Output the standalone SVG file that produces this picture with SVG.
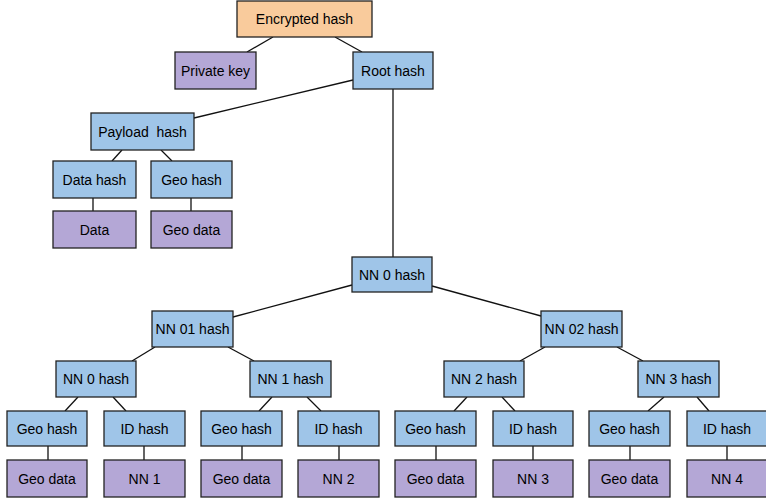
<svg xmlns="http://www.w3.org/2000/svg" width="766" height="500" viewBox="0 0 766 500">
<style>
rect{stroke:#222;stroke-width:1.3}
.b{fill:#9fc5e8}
.p{fill:#b4a7d6}
.o{fill:#f9cb9c}
text{font-family:"Liberation Sans",Arial,sans-serif;font-size:14px;fill:#000;text-anchor:middle;dominant-baseline:central}
#edges line{stroke:#111;stroke-width:1.3}
</style>
<rect width="766" height="500" fill="#fff" style="stroke:none"/>
<g id="edges">
<line x1="273" y1="37" x2="247" y2="52"/>
<line x1="335" y1="37" x2="362" y2="52"/>
<line x1="353" y1="80" x2="194" y2="118"/>
<line x1="393" y1="89" x2="393" y2="257"/>
<line x1="122" y1="150" x2="112" y2="161"/>
<line x1="161" y1="150" x2="172" y2="161"/>
<line x1="93" y1="198" x2="93" y2="211"/>
<line x1="191" y1="198" x2="191" y2="211"/>
<line x1="352" y1="285" x2="233" y2="317"/>
<line x1="432" y1="286" x2="541" y2="316"/>
<line x1="155" y1="347" x2="132" y2="361"/>
<line x1="228" y1="347" x2="254" y2="361"/>
<line x1="545" y1="347" x2="520" y2="361"/>
<line x1="617" y1="347" x2="643" y2="361"/>
<line x1="78" y1="397" x2="65" y2="411"/>
<line x1="113" y1="397" x2="126" y2="411"/>
<line x1="272" y1="397" x2="259" y2="411"/>
<line x1="307" y1="397" x2="321" y2="411"/>
<line x1="467" y1="397" x2="454" y2="411"/>
<line x1="502" y1="397" x2="515" y2="411"/>
<line x1="664" y1="397" x2="648" y2="411"/>
<line x1="697" y1="397" x2="709" y2="411"/>
<line x1="48" y1="446" x2="48" y2="460"/>
<line x1="144" y1="446" x2="144" y2="460"/>
<line x1="242" y1="446" x2="242" y2="460"/>
<line x1="339" y1="446" x2="339" y2="460"/>
<line x1="436" y1="446" x2="436" y2="460"/>
<line x1="533" y1="446" x2="533" y2="460"/>
<line x1="630" y1="446" x2="630" y2="460"/>
<line x1="727" y1="446" x2="727" y2="460"/>
</g>
<g id="encrypted"><rect class="o" x="237" y="1" width="135" height="36"/><text x="304.5" y="19">Encrypted hash</text></g>
<g id="privkey"><rect class="p" x="175" y="52" width="81" height="37"/><text x="215.5" y="70.5">Private key</text></g>
<g id="root"><rect class="b" x="353" y="52" width="80" height="37"/><text x="393" y="70.5">Root hash</text></g>
<g id="payload"><rect class="b" x="91" y="113" width="103" height="37"/><text x="142.5" y="131.5" style="white-space:pre">Payload  hash</text></g>
<g id="datahash"><rect class="b" x="53" y="161" width="83" height="37"/><text x="94.5" y="179.5">Data hash</text></g>
<g id="geohash0"><rect class="b" x="151" y="161" width="81" height="37"/><text x="191.5" y="179.5">Geo hash</text></g>
<g id="data"><rect class="p" x="53" y="211" width="83" height="37"/><text x="94.5" y="229.5">Data</text></g>
<g id="geodata0"><rect class="p" x="151" y="211" width="81" height="37"/><text x="191.5" y="229.5">Geo data</text></g>
<g id="nn0root"><rect class="b" x="352" y="257" width="80" height="35"/><text x="392" y="274.5">NN 0 hash</text></g>
<g id="nn01"><rect class="b" x="152" y="311" width="81" height="36"/><text x="192.5" y="329">NN 01 hash</text></g>
<g id="nn02"><rect class="b" x="541" y="311" width="81" height="36"/><text x="581.5" y="329">NN 02 hash</text></g>
<g id="nn0"><rect class="b" x="56" y="361" width="80" height="36"/><text x="96" y="379">NN 0 hash</text></g>
<g id="nn1"><rect class="b" x="250" y="361" width="81" height="36"/><text x="290.5" y="379">NN 1 hash</text></g>
<g id="nn2"><rect class="b" x="444" y="361" width="80" height="36"/><text x="484" y="379">NN 2 hash</text></g>
<g id="nn3"><rect class="b" x="638" y="361" width="81" height="36"/><text x="678.5" y="379">NN 3 hash</text></g>
<g id="geohash1"><rect class="b" x="7" y="411" width="80" height="35"/><text x="47" y="428.5">Geo hash</text></g>
<g id="idhash1"><rect class="b" x="104" y="411" width="81" height="35"/><text x="144.5" y="428.5">ID hash</text></g>
<g id="geohash2"><rect class="b" x="201" y="411" width="81" height="35"/><text x="241.5" y="428.5">Geo hash</text></g>
<g id="idhash2"><rect class="b" x="298" y="411" width="81" height="35"/><text x="338.5" y="428.5">ID hash</text></g>
<g id="geohash3"><rect class="b" x="395" y="411" width="81" height="35"/><text x="435.5" y="428.5">Geo hash</text></g>
<g id="idhash3"><rect class="b" x="493" y="411" width="80" height="35"/><text x="533" y="428.5">ID hash</text></g>
<g id="geohash4"><rect class="b" x="589" y="411" width="81" height="35"/><text x="629.5" y="428.5">Geo hash</text></g>
<g id="idhash4"><rect class="b" x="687" y="411" width="80" height="35"/><text x="727" y="428.5">ID hash</text></g>
<g id="geodata1"><rect class="p" x="7" y="460" width="80" height="37"/><text x="47" y="478.5">Geo data</text></g>
<g id="nn1leaf"><rect class="p" x="104" y="460" width="81" height="37"/><text x="144.5" y="478.5">NN 1</text></g>
<g id="geodata2"><rect class="p" x="201" y="460" width="81" height="37"/><text x="241.5" y="478.5">Geo data</text></g>
<g id="nn2leaf"><rect class="p" x="298" y="460" width="81" height="37"/><text x="338.5" y="478.5">NN 2</text></g>
<g id="geodata3"><rect class="p" x="395" y="460" width="81" height="37"/><text x="435.5" y="478.5">Geo data</text></g>
<g id="nn3leaf"><rect class="p" x="493" y="460" width="80" height="37"/><text x="533" y="478.5">NN 3</text></g>
<g id="geodata4"><rect class="p" x="589" y="460" width="81" height="37"/><text x="629.5" y="478.5">Geo data</text></g>
<g id="nn4leaf"><rect class="p" x="687" y="460" width="80" height="37"/><text x="727" y="478.5">NN 4</text></g>
</svg>
